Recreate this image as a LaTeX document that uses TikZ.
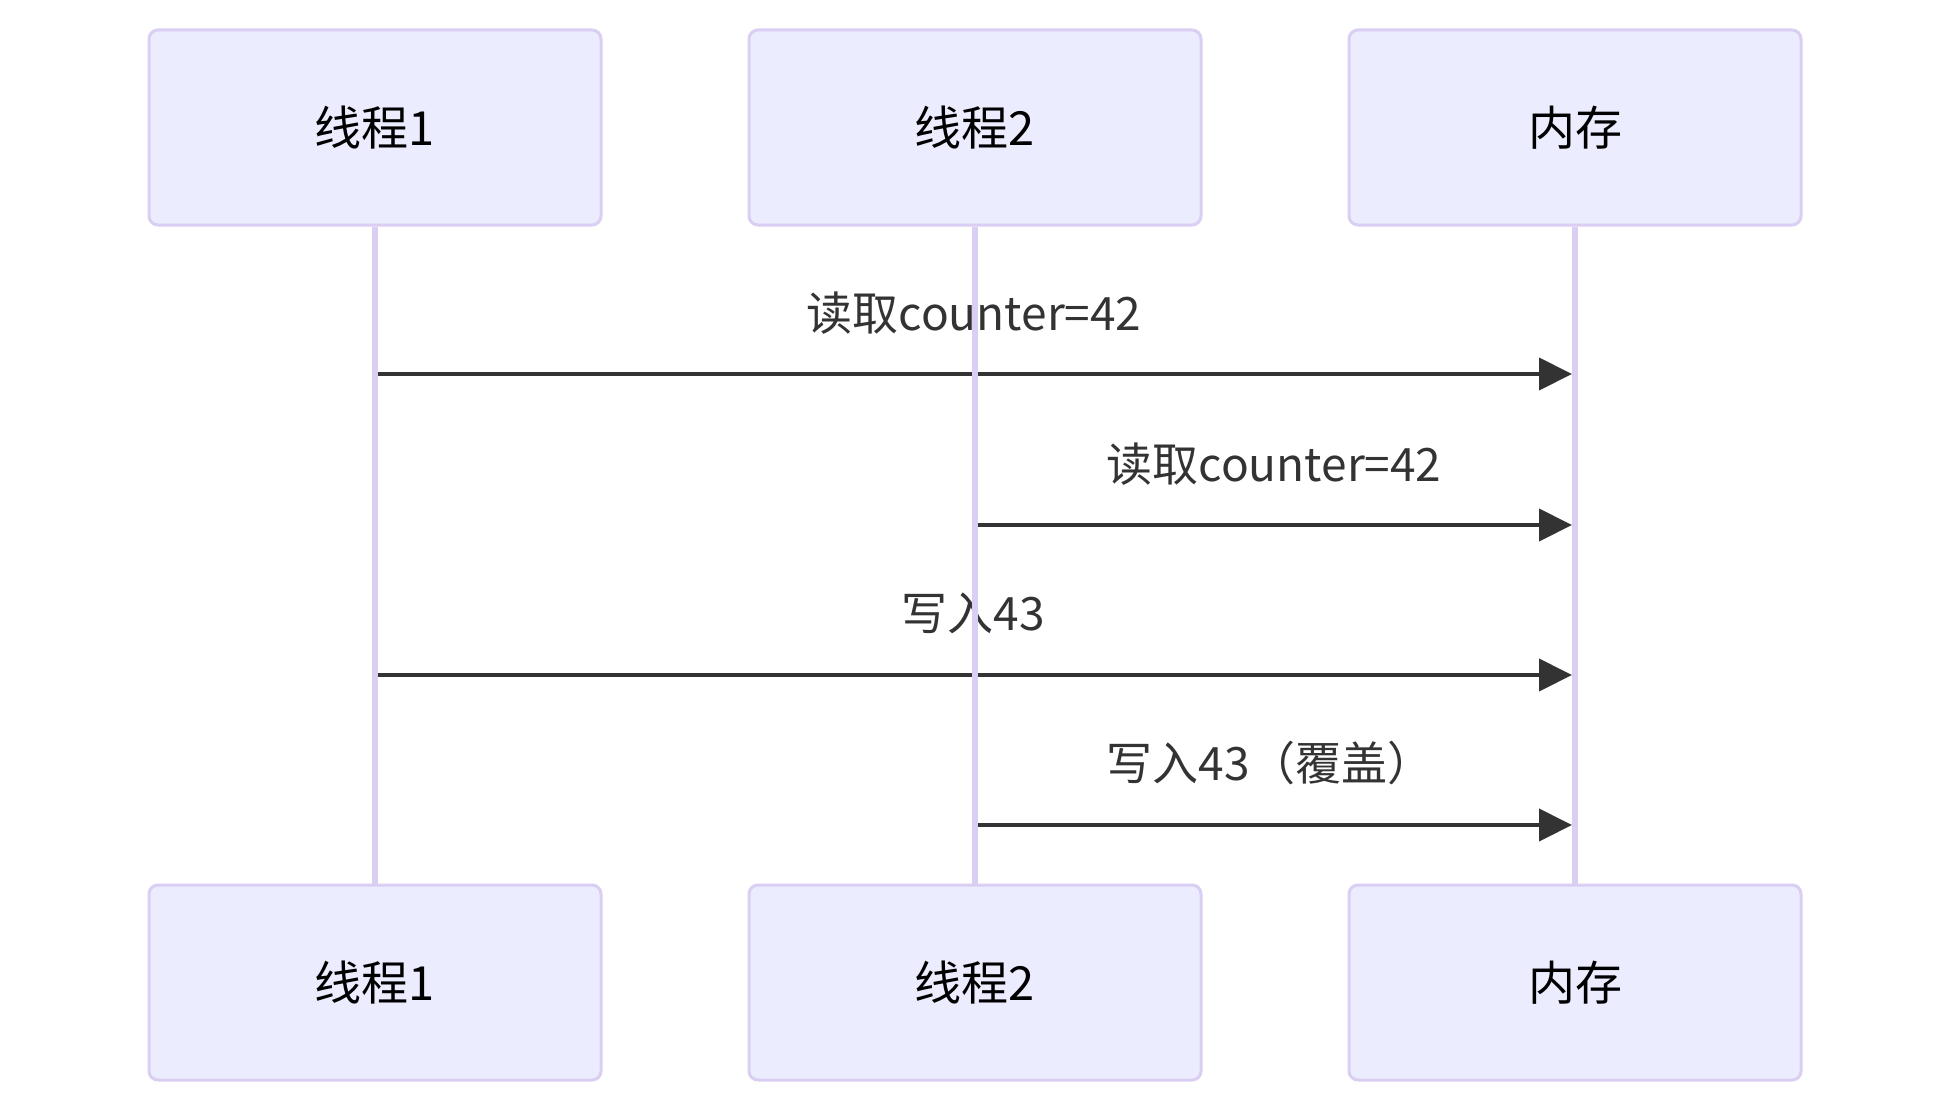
\documentclass[tikz,border=0pt]{standalone}
\usepackage{fontspec}
\setmainfont{Noto Sans CJK SC}
\usetikzlibrary{arrows.meta}
\definecolor{actorfill}{HTML}{ECECFF}
\definecolor{actorline}{HTML}{DACEF3}
\definecolor{msgtext}{HTML}{333333}
\tikzset{
  actor/.style={rectangle, rounded corners=9pt, draw=actorline, line width=3pt,
    fill=actorfill, minimum width=452pt, minimum height=195pt, inner sep=0pt,
    font=\fontsize{47}{56}\selectfont, text=black},
  lifeline/.style={draw=actorline, line width=5.5pt},
  msg/.style={draw=msgtext, line width=4pt, -{Triangle[length=33pt,width=32pt]}},
  msglabel/.style={inner sep=0pt, font=\fontsize{46}{55}\selectfont, text=msgtext, anchor=center}
}
\begin{document}
\begin{tikzpicture}[x=1pt,y=-1pt]
  \path[fill=white] (0,0) rectangle (1950,1113);
  \useasboundingbox (0,0) rectangle (1950,1113);

  % participants, top and bottom
  \node[actor] (t1top) at (375,127.5) {线程1};
  \node[actor] (t2top) at (975,127.5) {线程2};
  \node[actor] (memtop) at (1575,127.5) {内存};
  \node[actor] (t1bot) at (375,982.5) {线程1};
  \node[actor] (t2bot) at (975,982.5) {线程2};
  \node[actor] (membot) at (1575,982.5) {内存};

  % message end points
  \coordinate (m1s) at (378,374);  \coordinate (m1e) at (1572,374);
  \coordinate (m2s) at (978,525);  \coordinate (m2e) at (1572,525);
  \coordinate (m3s) at (378,675);  \coordinate (m3e) at (1572,675);
  \coordinate (m4s) at (978,825);  \coordinate (m4e) at (1572,825);

  % message labels
  \node[msglabel] (l1) at (974,313) {读取counter=42};
  \node[msglabel] (l2) at (1274,464) {读取counter=42};
  \node[msglabel] (l3) at (973,613) {写入43};
  \node[msglabel] (l4) at (1270,763) {写入43（覆盖）};

  % messages
  \draw[msg] (m1s) -- (m1e);
  \draw[msg] (m2s) -- (m2e);
  \draw[msg] (m3s) -- (m3e);
  \draw[msg] (m4s) -- (m4e);

  % lifelines
  \draw[lifeline] (t1top.south) -- (t1bot.north);
  \draw[lifeline] (t2top.south) -- (t2bot.north);
  \draw[lifeline] (memtop.south) -- (membot.north);
\end{tikzpicture}
\end{document}
